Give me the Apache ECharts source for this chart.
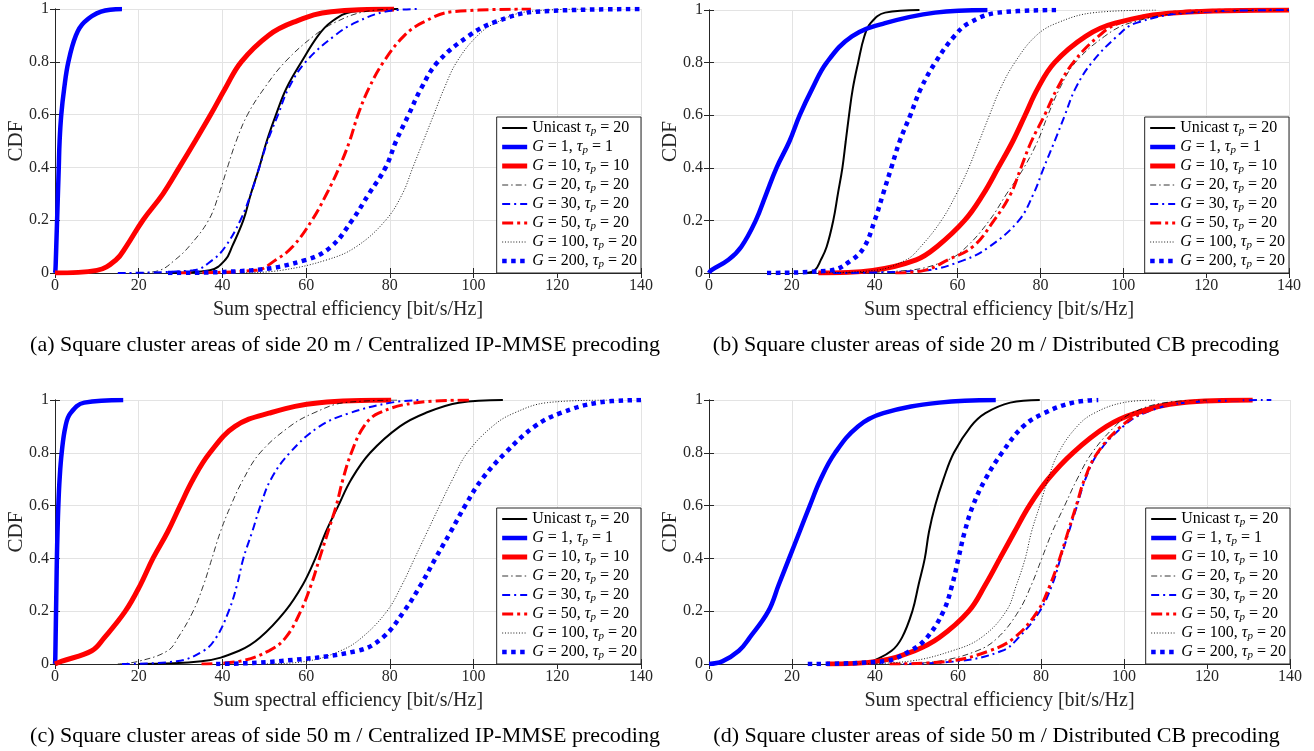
<!DOCTYPE html>
<html>
<head>
<meta charset="utf-8">
<script src="https://cdn.jsdelivr.net/npm/echarts@6/dist/echarts.min.js"></script>
<style>
  html, body { margin: 0; padding: 0; background: #fff; }
  #chart { width: 1314px; height: 751px; }
</style>
</head>
<body>
<div id="chart"></div>
<script>
// CDF levels shared by every curve; each series below lists the x value
// (sum SE, bit/s/Hz) where the curve reaches that level
const CDF_LEVELS = [0, 0.01, 0.05, 0.1, 0.2, 0.3, 0.4, 0.5, 0.6, 0.7, 0.8, 0.9, 0.95, 0.99, 1];

const SERIES_NAMES = [
  'Unicast τp = 20', 'G = 1, τp = 1', 'G = 10, τp = 10', 'G = 20, τp = 20',
  'G = 30, τp = 20', 'G = 50, τp = 20', 'G = 100, τp = 20', 'G = 200, τp = 20'
];

// (a) side 20 m, centralized IP-MMSE
const a_unicast = [27, 37, 40.7, 42.3, 45, 46.8, 48.8, 50.6, 52.8, 55.3, 58.9, 62.9, 65.9, 71, 82];
const a_g1 = [0, 0.1, 0.2, 0.3, 0.5, 0.7, 0.9, 1.1, 1.5, 2.2, 3.2, 5, 7, 11, 16];
const a_g10 = [0, 10, 14.6, 17, 21, 25.8, 29.7, 33.5, 37.2, 40.7, 44.5, 51, 57, 66, 81];
const a_g20 = [20, 25, 28.7, 32, 36.7, 39.2, 41.2, 43.3, 46, 50, 55, 62, 67, 74, 82];
const a_g30 = [15, 33, 37.7, 40.7, 44.3, 46.8, 48.8, 50.8, 53.3, 55.8, 59.9, 66.9, 72, 79, 87];
const a_g50 = [30, 48, 52.8, 56.8, 61.4, 64.9, 67.9, 70.4, 72.4, 75, 78.5, 83.5, 88, 95, 113.7];
const a_g100 = [45, 54, 65, 72, 79, 83, 85.5, 88, 90.5, 93, 96, 101, 105.6, 113, 127];
const a_g200 = [27, 47, 60, 66, 71, 75, 79, 81.5, 84.5, 87.5, 91.5, 99, 105, 115, 140];

// (b) side 20 m, distributed CB
const b_unicast = [23, 25.5, 27, 28.4, 30, 31.1, 32.2, 33, 33.8, 34.7, 36, 37.5, 39, 42.5, 50.8];
const b_g1 = [0, 0.5, 4.7, 7.8, 11.3, 13.8, 16.3, 19.4, 21.9, 24.9, 28.4, 34.5, 42.5, 54.6, 67.2];
const b_g10 = [26.4, 39.5, 50, 55, 61.7, 66.2, 69.8, 73.3, 76.3, 79.3, 83.4, 90.9, 98, 113, 140];
const b_g20 = [30, 48, 57.7, 62.2, 67.7, 71.8, 76, 79.3, 81.8, 84.6, 88.4, 95.5, 101.5, 115, 140];
const b_g30 = [30, 52, 61.7, 67.7, 74.8, 78.3, 80.8, 83.4, 85.9, 88.4, 92.4, 98.5, 103, 116, 140];
const b_g50 = [45, 52, 57.7, 63.7, 68.8, 72.8, 75.3, 77.8, 81, 84, 87.9, 94, 99, 111, 126];
const b_g100 = [25, 40, 47.6, 51.1, 56.1, 59.7, 62.7, 65.2, 67.7, 70.3, 73.8, 78.8, 83.9, 93, 108];
const b_g200 = [14, 29.4, 34.5, 37.5, 40, 42, 44, 46, 48.6, 51.1, 54.6, 59.2, 62.7, 69.8, 83.9];

// (c) side 50 m, centralized IP-MMSE
const c_unicast = [20, 35, 44, 49, 55, 59.2, 62.2, 64.7, 67.7, 70.8, 75.3, 82.4, 88.4, 96.5, 107];
const c_g1 = [0, 0.05, 0.1, 0.15, 0.25, 0.35, 0.45, 0.6, 0.8, 1.1, 1.6, 2.5, 3.7, 7, 16.3];
const c_g10 = [0, 1.5, 8.8, 11.8, 16.8, 20.4, 23.4, 26.9, 29.9, 33, 37, 43, 51.1, 63.2, 80.3];
const c_g20 = [15, 19.9, 26.9, 29.4, 33, 35.5, 37.5, 39.5, 42, 45, 49, 56.1, 61.7, 69.2, 82.4];
const c_g30 = [16, 29, 35.5, 38.5, 41.5, 43.5, 45, 47.1, 49.1, 51.6, 56.1, 63.2, 70.3, 80.3, 87.4];
const c_g50 = [35, 44, 51.1, 55.1, 58.7, 61.2, 63.2, 65.2, 67.2, 68.8, 70.8, 73.8, 77.3, 86.4, 99];
const c_g100 = [50, 60, 68.2, 73.3, 79.3, 82.9, 85.9, 88.9, 91.9, 95, 98.5, 104.5, 109.6, 117.6, 131.8];
const c_g200 = [38.5, 53, 72.3, 78.3, 83.4, 87.4, 90.9, 94.5, 98, 102, 107.6, 114.6, 120.7, 129.7, 140];

// (d) side 50 m, distributed CB
const d_unicast = [38, 39.4, 44, 46.5, 49, 50.5, 52, 53, 54.5, 56.5, 59, 63.1, 66.6, 72.6, 79.7];
const d_g1 = [0, 3.2, 7.2, 9.8, 14.3, 16.8, 19.3, 21.8, 24.3, 26.9, 30.4, 35.9, 42, 55.5, 69.1];
const d_g10 = [28.4, 40.4, 49.5, 55.5, 62.6, 66.6, 70.1, 73.6, 77.2, 81.7, 87.7, 95.8, 102.8, 113.9, 131];
const d_g20 = [45, 55, 64.6, 69.6, 74.6, 77.7, 80.2, 82.7, 85.7, 88.7, 92.3, 97.8, 101.8, 109.9, 121];
const d_g30 = [44, 59.6, 70.6, 74.6, 79.7, 82.7, 84.7, 86.7, 88.7, 90.7, 93.8, 99.8, 104.8, 114.9, 135.5];
const d_g50 = [43.5, 57.5, 67.6, 73.6, 79.2, 82.2, 84.5, 86.5, 88.5, 90.5, 93.6, 99.3, 104.3, 113.9, 130];
const d_g100 = [35, 48, 58.6, 65.6, 71.6, 74.1, 76.2, 77.7, 79.7, 81.7, 84.2, 88.7, 92.8, 99.8, 107.8];
const d_g200 = [23.8, 42, 48.5, 52.5, 56.5, 58.6, 60.1, 61.6, 63.6, 66.6, 70.6, 75.7, 80.7, 87.7, 93.8];

const PANELS = [
  [a_unicast, a_g1, a_g10, a_g20, a_g30, a_g50, a_g100, a_g200],
  [b_unicast, b_g1, b_g10, b_g20, b_g30, b_g50, b_g100, b_g200],
  [c_unicast, c_g1, c_g10, c_g20, c_g30, c_g50, c_g100, c_g200],
  [d_unicast, d_g1, d_g10, d_g20, d_g30, d_g50, d_g100, d_g200]
];

const CAPTIONS = [
  '(a) Square cluster areas of side 20 m / Centralized IP-MMSE precoding',
  '(b) Square cluster areas of side 20 m / Distributed CB precoding',
  '(c) Square cluster areas of side 50 m / Centralized IP-MMSE precoding',
  '(d) Square cluster areas of side 50 m / Distributed CB precoding'
];

const W = 1314, H = 751;
const FONT = 'Liberation Serif';

// plot boxes, pixel layout of the four panels
const grids = [
  { left: 55, top: 9, width: 586, height: 264 },
  { left: 709, top: 10, width: 580, height: 263 },
  { left: 55, top: 400, width: 586, height: 264 },
  { left: 709, top: 400, width: 581, height: 264 }
];

// line look per series (MATLAB styles)
const styles = [
  { color: '#000000', width: 2, type: 'solid' },
  { color: '#0000ff', width: 4.5, type: 'solid' },
  { color: '#ff0000', width: 5, type: 'solid' },
  { color: '#000000', width: 0.8, type: [6, 3, 1.5, 3] },
  { color: '#0000ff', width: 2, type: [8, 4, 2, 4] },
  { color: '#ff0000', width: 3, type: [11, 4, 3, 4] },
  { color: '#000000', width: 0.9, type: [1, 1.8] },
  { color: '#0000ff', width: 4.5, type: [4.5, 4.5] }
];

const axisColor = '#262626';
const gridColor = '#e3e3e3';

const xAxes = [], yAxes = [], series = [], legends = [], graphics = [];

grids.forEach((g, gi) => {
  const common = { gridIndex: gi, min: 0, type: 'value' };
  const line = { show: true, lineStyle: { color: axisColor, width: 1 } };
  const tick = { show: true, inside: true, length: 5, lineStyle: { color: axisColor } };
  xAxes.push({
    ...common, max: 140, interval: 20, position: 'bottom',
    name: 'Sum spectral efficiency [bit/s/Hz]', nameLocation: 'middle', nameGap: 27,
    nameTextStyle: { fontFamily: FONT, fontSize: 20, color: axisColor },
    axisLine: line, axisTick: tick,
    axisLabel: { fontFamily: FONT, fontSize: 16, color: axisColor, margin: 5 },
    splitLine: { show: true, lineStyle: { color: gridColor, width: 1 } }
  });
  xAxes.push({
    ...common, max: 140, interval: 20, position: 'top',
    axisLine: line, axisTick: tick,
    axisLabel: { show: false }, splitLine: { show: false }
  });
  yAxes.push({
    ...common, max: 1, interval: 0.2, position: 'left',
    name: 'CDF', nameLocation: 'middle', nameGap: 28, nameMoveOverlap: false,
    nameTextStyle: { fontFamily: FONT, fontSize: 21, color: axisColor },
    axisLine: line, axisTick: tick,
    axisLabel: { fontFamily: FONT, fontSize: 16, color: axisColor, margin: 6 },
    splitLine: { show: true, lineStyle: { color: gridColor, width: 1 } }
  });
  yAxes.push({
    ...common, max: 1, interval: 0.2, position: 'right',
    axisLine: line, axisTick: tick,
    axisLabel: { show: false }, splitLine: { show: false }
  });

  PANELS[gi].forEach((xs, si) => {
    const st = styles[si];
    series.push({
      type: 'line',
      name: SERIES_NAMES[si],
      xAxisIndex: gi * 2,
      yAxisIndex: gi * 2,
      data: xs.map((x, k) => [x, CDF_LEVELS[k]]),
      showSymbol: false,
      symbol: 'none',
      smooth: 0.4,
      silent: true,
      color: st.color,
      lineStyle: { color: st.color, width: st.width, type: st.type, cap: 'butt' },
      z: 2 + si
    });
  });

  legends.push({
    orient: 'vertical',
    right: W - (g.left + g.width),
    bottom: H - (g.top + g.height),
    data: SERIES_NAMES,
    itemWidth: 25,
    itemHeight: 10,
    itemGap: 2,
    padding: [3, 4, 3, 3],
    backgroundColor: '#ffffff',
    borderColor: '#262626',
    borderWidth: 1,
    borderRadius: 0,
    selectedMode: false,
    itemStyle: { opacity: 0 },
    lineStyle: { width: 'inherit', type: 'inherit', color: 'inherit' },
    formatter: (name) => name
      .replace(/^G/, '{i|G}')
      .replace('τp', '{i|τ}{s|p}'),
    textStyle: {
      fontFamily: FONT, fontSize: 16, color: '#000',
      rich: {
        i: { fontFamily: FONT, fontSize: 16, fontStyle: 'italic', color: '#000' },
        s: { fontFamily: FONT, fontSize: 11, fontStyle: 'italic', color: '#000', verticalAlign: 'bottom', padding: [7, 0, 0, 0] }
      }
    }
  });

  graphics.push({
    type: 'text',
    x: g.left + g.width / 2 - 3,
    y: g.top + g.height + 72,
    style: {
      text: CAPTIONS[gi],
      font: '22px "' + FONT + '"',
      fill: '#000',
      textAlign: 'center',
      textVerticalAlign: 'middle'
    }
  });
});

const chart = echarts.init(document.getElementById('chart'), null, { renderer: 'canvas' });
chart.setOption({
  backgroundColor: '#ffffff',
  animation: false,
  grid: grids.map(g => ({ ...g, show: false, containLabel: false })),
  xAxis: xAxes,
  yAxis: yAxes,
  legend: legends,
  series: series,
  graphic: graphics
});
</script>
</body>
</html>
